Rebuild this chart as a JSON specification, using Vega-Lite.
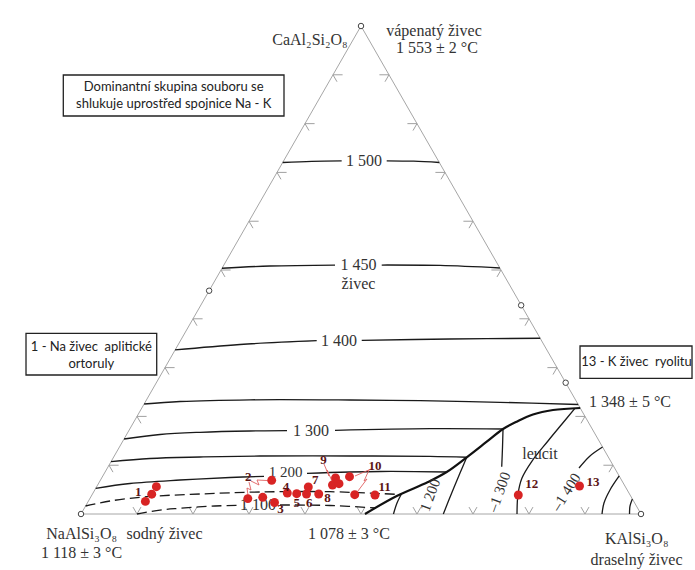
{
  "$schema": "https://vega.github.io/schema/vega-lite/v6.json",
  "width": 695,
  "height": 570,
  "autosize": "none",
  "padding": 0,
  "background": "white",
  "config": {"view": {"stroke": null}},
  "datasets": {
    "tri": [
      {"o": 0, "x": 0, "y": 0}, {"o": 1, "x": 100, "y": 0}, {"o": 2, "x": 50, "y": 87.14}, {"o": 3, "x": 0, "y": 0}
    ],
    "ticks": [
      {"s": "L", "x": 5, "y": 8.71}, {"s": "L", "x": 10, "y": 17.43}, {"s": "L", "x": 15, "y": 26.14}, {"s": "L", "x": 20, "y": 34.86}, {"s": "L", "x": 25, "y": 43.57}, {"s": "L", "x": 30, "y": 52.28}, {"s": "L", "x": 35, "y": 61}, {"s": "L", "x": 40, "y": 69.71}, {"s": "L", "x": 45, "y": 78.43},
      {"s": "R", "x": 95, "y": 8.71}, {"s": "R", "x": 90, "y": 17.43}, {"s": "R", "x": 85, "y": 26.14}, {"s": "R", "x": 80, "y": 34.86}, {"s": "R", "x": 75, "y": 43.57}, {"s": "R", "x": 70, "y": 52.28}, {"s": "R", "x": 65, "y": 61}, {"s": "R", "x": 60, "y": 69.71}, {"s": "R", "x": 55, "y": 78.43},
      {"s": "B", "x": 10, "y": 0}, {"s": "B", "x": 20, "y": 0}, {"s": "B", "x": 30, "y": 0}, {"s": "B", "x": 40, "y": 0}, {"s": "B", "x": 50, "y": 0}, {"s": "B", "x": 60, "y": 0}, {"s": "B", "x": 70, "y": 0}, {"s": "B", "x": 80, "y": 0}, {"s": "B", "x": 90, "y": 0}
    ],
    "vc": [
      {"x": 0, "y": 0}, {"x": 100, "y": 0}, {"x": 50, "y": 87.14}, {"x": 22.88, "y": 39.87}, {"x": 78.6, "y": 37.27}, {"x": 86.55, "y": 23.44}
    ],
    "iso": [
      {"id": "1500a", "o": 1, "x": 36.02, "y": 62.77}, {"id": "1500a", "o": 2, "x": 41.2, "y": 62.98}, {"id": "1500a", "o": 3, "x": 46.55, "y": 63.07},
      {"id": "1500b", "o": 1, "x": 54.59, "y": 63.07}, {"id": "1500b", "o": 2, "x": 59.4, "y": 63.0}, {"id": "1500b", "o": 3, "x": 63.98, "y": 62.77},
      {"id": "1450a", "o": 1, "x": 25.18, "y": 43.88}, {"id": "1450a", "o": 2, "x": 33.75, "y": 44.29}, {"id": "1450a", "o": 3, "x": 45.36, "y": 44.46},
      {"id": "1450b", "o": 1, "x": 53.7, "y": 44.46}, {"id": "1450b", "o": 2, "x": 64.11, "y": 44.38}, {"id": "1450b", "o": 3, "x": 74.8, "y": 43.93},
      {"id": "1400a", "o": 1, "x": 16.8, "y": 29.29}, {"id": "1400a", "o": 2, "x": 28.39, "y": 30.27}, {"id": "1400a", "o": 3, "x": 42.09, "y": 30.95},
      {"id": "1400b", "o": 1, "x": 50.13, "y": 31.02}, {"id": "1400b", "o": 2, "x": 65.89, "y": 31.25}, {"id": "1400b", "o": 3, "x": 82, "y": 31.38},
      {"id": "1350", "o": 1, "x": 11.27, "y": 19.64}, {"id": "1350", "o": 2, "x": 17.68, "y": 20.09}, {"id": "1350", "o": 3, "x": 30.18, "y": 20.39}, {"id": "1350", "o": 4, "x": 48.04, "y": 20.36}, {"id": "1350", "o": 5, "x": 60.54, "y": 20.23}, {"id": "1350", "o": 6, "x": 74.82, "y": 19.95}, {"id": "1350", "o": 7, "x": 88.79, "y": 19.55},
      {"id": "1300a", "o": 1, "x": 7.68, "y": 13.39}, {"id": "1300a", "o": 2, "x": 14.11, "y": 14.2}, {"id": "1300a", "o": 3, "x": 21.25, "y": 14.59}, {"id": "1300a", "o": 4, "x": 30.18, "y": 14.82}, {"id": "1300a", "o": 5, "x": 36.79, "y": 14.88},
      {"id": "1300b", "o": 1, "x": 45.36, "y": 14.95}, {"id": "1300b", "o": 2, "x": 62.32, "y": 15.23}, {"id": "1300b", "o": 3, "x": 75.36, "y": 15.18},
      {"id": "1250", "o": 1, "x": 5.36, "y": 9.34}, {"id": "1250", "o": 2, "x": 12.32, "y": 9.91}, {"id": "1250", "o": 3, "x": 21.25, "y": 10.18}, {"id": "1250", "o": 4, "x": 31.96, "y": 10.36}, {"id": "1250", "o": 5, "x": 48.04, "y": 10.36}, {"id": "1250", "o": 6, "x": 62.32, "y": 10.3}, {"id": "1250", "o": 7, "x": 68.88, "y": 10.13},
      {"id": "1200a", "o": 1, "x": 2.63, "y": 4.59}, {"id": "1200a", "o": 2, "x": 8.75, "y": 5.45}, {"id": "1200a", "o": 3, "x": 17.68, "y": 6.07}, {"id": "1200a", "o": 4, "x": 26.61, "y": 6.52}, {"id": "1200a", "o": 5, "x": 32.68, "y": 6.73},
      {"id": "1200b", "o": 1, "x": 40.36, "y": 7.27}, {"id": "1200b", "o": 2, "x": 53.39, "y": 7.59}, {"id": "1200b", "o": 3, "x": 65.3, "y": 7.5},
      {"id": "L1", "o": 1, "x": 57.27, "y": 3.66}, {"id": "L1", "o": 2, "x": 56.43, "y": 1.96}, {"id": "L1", "o": 3, "x": 55.8, "y": 0},
      {"id": "L2", "o": 1, "x": 68.88, "y": 10.13}, {"id": "L2", "o": 2, "x": 67.68, "y": 7.32}, {"id": "L2", "o": 3, "x": 66.2, "y": 3.75}, {"id": "L2", "o": 4, "x": 64.7, "y": 0},
      {"id": "L3", "o": 1, "x": 75.36, "y": 15.18}, {"id": "L3", "o": 2, "x": 75.27, "y": 11.96}, {"id": "L3", "o": 3, "x": 75.13, "y": 8.45},
      {"id": "L4", "o": 1, "x": 88.2, "y": 18.85}, {"id": "L4", "o": 2, "x": 85.89, "y": 16.07}, {"id": "L4", "o": 3, "x": 83.39, "y": 13.04}, {"id": "L4", "o": 4, "x": 80.54, "y": 9.46}, {"id": "L4", "o": 5, "x": 78.75, "y": 6.43}, {"id": "L4", "o": 6, "x": 78.04, "y": 3.57}, {"id": "L4", "o": 7, "x": 77.86, "y": 0},
      {"id": "L5", "o": 1, "x": 93.14, "y": 11.96}, {"id": "L5", "o": 2, "x": 90.89, "y": 10.36}, {"id": "L5", "o": 3, "x": 88.93, "y": 8.21},
      {"id": "L6", "o": 1, "x": 96.11, "y": 6.79}, {"id": "L6", "o": 2, "x": 94.46, "y": 4.29}, {"id": "L6", "o": 3, "x": 93.39, "y": 1.96}, {"id": "L6", "o": 4, "x": 93.04, "y": 0},
      {"id": "L7", "o": 1, "x": 98.46, "y": 2.68}, {"id": "L7", "o": 2, "x": 98.04, "y": 1.43}, {"id": "L7", "o": 3, "x": 97.95, "y": 0}
    ],
    "dash": [
      {"id": "D1", "o": 1, "x": 0.82, "y": 1.43}, {"id": "D1", "o": 2, "x": 5.18, "y": 2.32}, {"id": "D1", "o": 3, "x": 11.73, "y": 3.09}, {"id": "D1", "o": 4, "x": 21.25, "y": 3.57}, {"id": "D1", "o": 5, "x": 31.96, "y": 3.93}, {"id": "D1", "o": 6, "x": 44.46, "y": 3.98}, {"id": "D1", "o": 7, "x": 56.96, "y": 3.48},
      {"id": "D2a", "o": 1, "x": 10, "y": 0}, {"id": "D2a", "o": 2, "x": 14.11, "y": 0.71}, {"id": "D2a", "o": 3, "x": 17.68, "y": 1.02}, {"id": "D2a", "o": 4, "x": 23.93, "y": 1.43}, {"id": "D2a", "o": 5, "x": 28.2, "y": 1.55},
      {"id": "D2b", "o": 1, "x": 35.54, "y": 1.61}, {"id": "D2b", "o": 2, "x": 44.46, "y": 1.52}, {"id": "D2b", "o": 3, "x": 52.68, "y": 1.07}
    ],
    "bound": [
      {"o": 1, "x": 50.71, "y": 0}, {"o": 2, "x": 56.38, "y": 3.21}, {"o": 3, "x": 61.96, "y": 5.71}, {"o": 4, "x": 65.3, "y": 7.5}, {"o": 5, "x": 68.88, "y": 10.13}, {"o": 6, "x": 72.45, "y": 12.91}, {"o": 7, "x": 75.36, "y": 15.18}, {"o": 8, "x": 77.8, "y": 16.48}, {"o": 9, "x": 80.71, "y": 17.77}, {"o": 10, "x": 84.29, "y": 18.57}, {"o": 11, "x": 89.14, "y": 18.93}
    ],
    "con": [
      {"id": "c2a", "o": 1, "x": 30.36, "y": 5.89}, {"id": "c2a", "o": 2, "x": 31.79, "y": 5.18}, {"id": "c2a", "o": 3, "x": 31.43, "y": 6.07}, {"id": "c2a", "o": 4, "x": 33.21, "y": 5.98},
      {"id": "c2b", "o": 1, "x": 30, "y": 5.71}, {"id": "c2b", "o": 2, "x": 30.36, "y": 4.29}, {"id": "c2b", "o": 3, "x": 29.64, "y": 4.64}, {"id": "c2b", "o": 4, "x": 29.82, "y": 3.39},
      {"id": "c9", "o": 1, "x": 43.39, "y": 8.93}, {"id": "c9", "o": 2, "x": 44.29, "y": 6.79}, {"id": "c9", "o": 3, "x": 43.93, "y": 7.86}, {"id": "c9", "o": 4, "x": 44.82, "y": 5.89},
      {"id": "c10a", "o": 1, "x": 51.79, "y": 8.04}, {"id": "c10a", "o": 2, "x": 48.93, "y": 6.79},
      {"id": "c10b", "o": 1, "x": 51.43, "y": 7.86}, {"id": "c10b", "o": 2, "x": 50.54, "y": 5.89}, {"id": "c10b", "o": 3, "x": 51.07, "y": 6.25}, {"id": "c10b", "o": 4, "x": 49.46, "y": 4.11}
    ],
    "pts": [
      {"n": "1", "x": 13.46, "y": 4.88}, {"n": "1", "x": 12.63, "y": 3.54}, {"n": "1", "x": 11.5, "y": 2.25},
      {"n": "2", "x": 34.05, "y": 6.02}, {"n": "2", "x": 29.79, "y": 2.75}, {"n": "2", "x": 32.45, "y": 2.98},
      {"n": "3", "x": 34.55, "y": 2.05}, {"n": "4", "x": 36.84, "y": 3.75}, {"n": "5", "x": 38.52, "y": 3.63},
      {"n": "6", "x": 40.27, "y": 3.57}, {"n": "7", "x": 40.59, "y": 4.82}, {"n": "8", "x": 42.45, "y": 3.57},
      {"n": "9", "x": 44.91, "y": 5.18}, {"n": "9", "x": 46.07, "y": 5.41}, {"n": "9", "x": 45.45, "y": 6.43},
      {"n": "10", "x": 47.95, "y": 6.66}, {"n": "11", "x": 48.88, "y": 3.45}, {"n": "11", "x": 52.5, "y": 3.39},
      {"n": "12", "x": 78.09, "y": 3.39}, {"n": "13", "x": 89.02, "y": 5}
    ],
    "nl": [
      {"t": "1", "x": 10.23, "y": 3.98}, {"t": "2", "x": 29.88, "y": 6.55}, {"t": "3", "x": 35.63, "y": 0.89},
      {"t": "4", "x": 36.6, "y": 4.8}, {"t": "5", "x": 38.52, "y": 2.02}, {"t": "6", "x": 40.77, "y": 2.02},
      {"t": "7", "x": 41.84, "y": 6.07}, {"t": "8", "x": 44.02, "y": 2.8}, {"t": "9", "x": 43.3, "y": 9.64},
      {"t": "10", "x": 52.5, "y": 8.66}, {"t": "11", "x": 54.2, "y": 4.82}, {"t": "12", "x": 80.48, "y": 5.36},
      {"t": "13", "x": 91.43, "y": 5.8}
    ],
    "lab": [
      {"t": "CaAl₂Si₂O₈", "x": 40.89, "y": 84.64},
      {"t": "vápenatý živec", "x": 63.04, "y": 86.3},
      {"t": "1 553 ± 2 °C", "x": 63.57, "y": 83.2},
      {"t": "NaAlSi₃O₈", "x": 0.12, "y": -3.57},
      {"t": "sodný živec", "x": 14.91, "y": -3.57},
      {"t": "1 118 ± 3 °C", "x": 0.09, "y": -6.96},
      {"t": "1 078 ± 3 °C", "x": 47.86, "y": -3.57},
      {"t": "KAlSi₃O₈", "x": 99.23, "y": -4.38},
      {"t": "draselný živec", "x": 99.2, "y": -8.21},
      {"t": "1 348 ± 5 °C", "x": 98.04, "y": 20.05},
      {"t": "leucit", "x": 81.96, "y": 10.8},
      {"t": "1 500", "x": 50.54, "y": 63.04},
      {"t": "1 450", "x": 49.55, "y": 44.46},
      {"t": "živec", "x": 49.55, "y": 41.07},
      {"t": "1 400", "x": 46.07, "y": 30.89},
      {"t": "1 300", "x": 41.07, "y": 14.82},
      {"t": "1 100", "x": 31.6, "y": 1.61}
    ],
    "lab2": [
      {"t": "1 200", "x": 36.52, "y": 7.55}
    ],
    "rot1": [
      {"t": "1 200", "x": 62.32, "y": 3.39},
      {"t": "–1 300", "x": 74.64, "y": 3.93}
    ],
    "rot2": [
      {"t": "–1 400", "x": 86.61, "y": 3.93}
    ],
    "boxes": [
      {"x": -3.16, "x2": 36.25, "y": 78.39, "y2": 71.07},
      {"x": -9.82, "x2": 13.52, "y": 32.27, "y2": 24.82},
      {"x": 89.11, "x2": 109.11, "y": 30, "y2": 24.23}
    ],
    "bt": [
      {"t": "Dominantní skupina souboru se", "x": 16.55, "y": 76.25},
      {"t": "shlukuje uprostřed spojnice Na - K", "x": 16.55, "y": 73.13},
      {"t": "1 - Na živec\u00a0 aplitické", "x": 1.84, "y": 29.77},
      {"t": "ortoruly", "x": 1.84, "y": 26.79},
      {"t": "13 - K živec\u00a0 ryolitu", "x": 99.2, "y": 27.14}
    ]
  },
  "encoding": {
    "x": {"field": "x", "type": "quantitative", "scale": {"domain": [-14.464, 109.643], "nice": false, "zero": false}, "axis": null},
    "y": {"field": "y", "type": "quantitative", "scale": {"domain": [-10, 91.786], "nice": false, "zero": false}, "axis": null}
  },
  "layer": [
    {
      "data": {"name": "tri"},
      "mark": {"type": "line", "color": "#a6a6a6", "strokeWidth": 1},
      "encoding": {"order": {"field": "o", "type": "quantitative"}}
    },
    {
      "data": {"name": "ticks"},
      "mark": {"type": "point", "filled": false, "color": "#a0a0a0", "strokeWidth": 1, "size": 256, "opacity": 1},
      "encoding": {
        "shape": {"field": "s", "type": "nominal", "legend": null,
          "scale": {"domain": ["L", "R", "B"], "range": ["M1.2,0L0,0L0.5,0.866", "M-1.2,0L0,0L-0.5,0.866", "M-0.5,-0.866L0,0L0.5,-0.866"]}}
      }
    },
    {
      "data": {"name": "iso"},
      "mark": {"type": "line", "color": "#1a1a1a", "strokeWidth": 1.3, "interpolate": "catmull-rom"},
      "encoding": {"detail": {"field": "id", "type": "nominal"}, "order": {"field": "o", "type": "quantitative"}}
    },
    {
      "data": {"name": "dash"},
      "mark": {"type": "line", "color": "#1a1a1a", "strokeWidth": 1.3, "strokeDash": [10, 5], "interpolate": "catmull-rom"},
      "encoding": {"detail": {"field": "id", "type": "nominal"}, "order": {"field": "o", "type": "quantitative"}}
    },
    {
      "data": {"name": "bound"},
      "mark": {"type": "line", "color": "#111111", "strokeWidth": 2.2, "interpolate": "catmull-rom"},
      "encoding": {"order": {"field": "o", "type": "quantitative"}}
    },
    {
      "data": {"name": "vc"},
      "mark": {"type": "point", "shape": "circle", "filled": true, "fill": "white", "stroke": "#444444", "strokeWidth": 1, "size": 30, "opacity": 1},
      "encoding": {}
    },
    {
      "data": {"name": "lab"},
      "mark": {"type": "text", "font": "Liberation Serif", "fontSize": 16, "color": "#333333", "align": "center", "baseline": "middle"},
      "encoding": {"text": {"field": "t"}}
    },
    {
      "data": {"name": "lab2"},
      "mark": {"type": "text", "font": "Liberation Serif", "fontSize": 15, "color": "#333333", "align": "center", "baseline": "middle"},
      "encoding": {"text": {"field": "t"}}
    },
    {
      "data": {"name": "rot1"},
      "mark": {"type": "text", "font": "Liberation Serif", "fontSize": 15, "color": "#333333", "align": "center", "baseline": "middle", "angle": -70},
      "encoding": {"text": {"field": "t"}}
    },
    {
      "data": {"name": "rot2"},
      "mark": {"type": "text", "font": "Liberation Serif", "fontSize": 15, "color": "#333333", "align": "center", "baseline": "middle", "angle": -58},
      "encoding": {"text": {"field": "t"}}
    },
    {
      "data": {"name": "con"},
      "mark": {"type": "line", "color": "#e06060", "strokeWidth": 0.9},
      "encoding": {"detail": {"field": "id", "type": "nominal"}, "order": {"field": "o", "type": "quantitative"}}
    },
    {
      "data": {"name": "pts"},
      "mark": {"type": "point", "shape": "circle", "filled": true, "color": "#d82424", "size": 80, "opacity": 1},
      "encoding": {}
    },
    {
      "data": {"name": "nl"},
      "mark": {"type": "text", "font": "Liberation Serif", "fontSize": 13, "fontWeight": "bold", "color": "#5c1414", "align": "center", "baseline": "middle"},
      "encoding": {"text": {"field": "t"}}
    },
    {
      "data": {"name": "boxes"},
      "mark": {"type": "rect", "fill": "white", "stroke": "#222222", "strokeWidth": 1.3},
      "encoding": {"x2": {"field": "x2"}, "y2": {"field": "y2"}}
    },
    {
      "data": {"name": "bt"},
      "mark": {"type": "text", "font": "Lato", "fontSize": 13, "color": "#222222", "align": "center", "baseline": "middle"},
      "encoding": {"text": {"field": "t"}}
    }
  ]
}
